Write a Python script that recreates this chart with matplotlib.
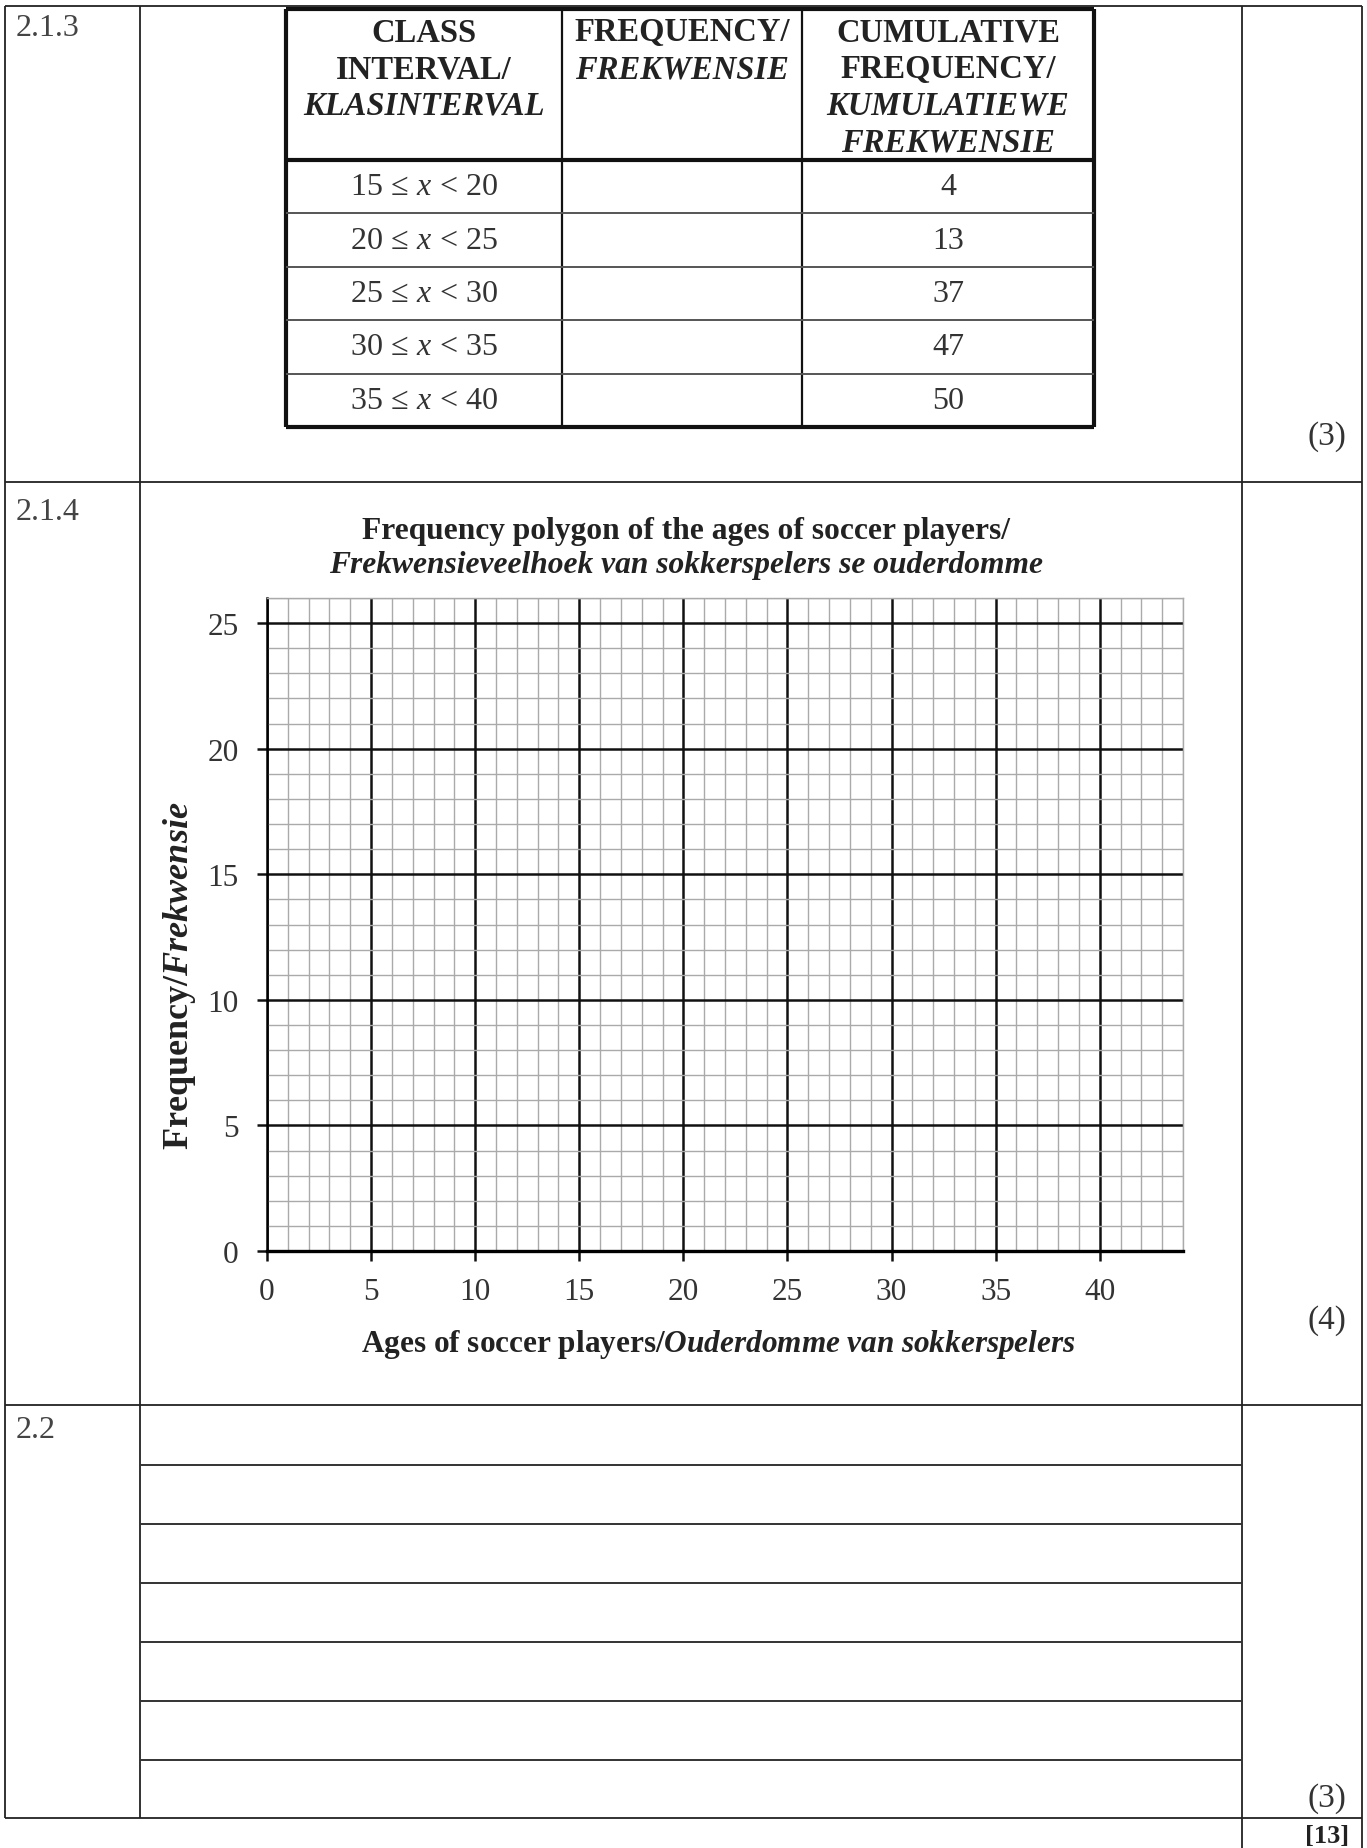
import matplotlib
matplotlib.use("Agg")
import matplotlib.pyplot as plt

plt.rcParams['font.family'] = ['Liberation Serif', 'DejaVu Serif']
plt.rcParams['mathtext.fontset'] = 'custom'
plt.rcParams['mathtext.rm'] = 'Liberation Serif'
plt.rcParams['mathtext.it'] = 'Liberation Serif:italic'
plt.rcParams['mathtext.bf'] = 'Liberation Serif:bold'
plt.rcParams['mathtext.bfit'] = 'Liberation Serif:bold:italic'

# table data (question 2.1.3)
class_lower = [15, 20, 25, 30, 35]
class_upper = [20, 25, 30, 35, 40]
cum_freq = [4, 13, 37, 47, 50]

# empty frequency polygon grid (question 2.1.4)
x_ticks = [0, 5, 10, 15, 20, 25, 30, 35, 40]
y_ticks = [0, 5, 10, 15, 20, 25]
x_max, y_max = 44, 26

marks = ['(3)', '(4)', '(3)']
total = '[13]'

W, H = 1367, 1849
fig = plt.figure(figsize=(W / 100, H / 100), dpi=100)

# page layer in pixel coordinates
bg = fig.add_axes([0, 0, 1, 1])
bg.set_xlim(0, W)
bg.set_ylim(H, 0)
bg.axis('off')

k = dict(color='#222222', lw=1.3)
# outer frame and column dividers
bg.hlines([7, 483, 1406, 1819], 5, 1362, **k)
bg.vlines([5, 140, 1242, 1362], 7, 1819, **k)
bg.vlines([1242, 1362], 1819, H, **k)
# answer lines for 2.2
bg.hlines([1466, 1525, 1584, 1643, 1702, 1761], 140, 1242, color='#333333', lw=1.4)

# section numbers
for lab, y in [('2.1.3', 28), ('2.1.4', 512), ('2.2', 1430)]:
    bg.text(16, y, lab, fontsize=23, va='center', ha='left', color='#444444')

# marks
for m, y in zip(marks, [437, 1321, 1799]):
    bg.text(1327, y, m, fontsize=24, ha='center', va='center', color='#333333')
bg.text(1327, 1836, total, fontsize=19, ha='center', va='center', weight='bold',
        color='#222222')

# --- table ---
tl, tr = 286, 1094
cols = [286, 562, 802, 1094]
t_top, h_bot, t_bot = 10, 161, 428
row_h = (t_bot - h_bot) / len(cum_freq)
bg.hlines([t_top, h_bot, t_bot], tl, tr, color='#111111', lw=3)
bg.vlines([tl, tr], t_top, t_bot, color='#111111', lw=3)
bg.vlines(cols[1:3], t_top, t_bot, color='#111111', lw=1.6)
bg.hlines([h_bot + row_h * i for i in range(1, len(cum_freq))], tl, tr,
          color='#555555', lw=1.4)

head = [
    [('CLASS', 'normal'), ('INTERVAL/', 'normal'), ('KLASINTERVAL', 'italic')],
    [('FREQUENCY/', 'normal'), ('FREKWENSIE', 'italic')],
    [('CUMULATIVE', 'normal'), ('FREQUENCY/', 'normal'),
     ('KUMULATIEWE', 'italic'), ('FREKWENSIE', 'italic')],
]
for c, lines in enumerate(head):
    cx = (cols[c] + cols[c + 1]) / 2
    for j, (txt, st) in enumerate(lines):
        bg.text(cx, 33 + 36.7 * j, txt, fontsize=23.5, weight='bold', style=st,
                ha='center', va='center', color='#222222')

for i, (lo, hi, cf) in enumerate(zip(class_lower, class_upper, cum_freq)):
    cy = h_bot + row_h * (i + 0.5)
    bg.text((cols[0] + cols[1]) / 2, cy, r'$%d\,\leq\,x\,<\,%d$' % (lo, hi),
            fontsize=23, ha='center', va='center', color='#333333')
    bg.text((cols[2] + cols[3]) / 2, cy, str(cf), fontsize=23,
            ha='center', va='center', color='#333333')

# --- chart ---
ax = fig.add_axes([267 / W, 1 - 1252 / H, (1183 - 267) / W, (1252 - 599) / H])
ax.set_xlim(0, x_max)
ax.set_ylim(0, y_max)
ax.set_xticks(x_ticks)
ax.set_yticks(y_ticks)
ax.set_xticks(range(0, x_max + 1), minor=True)
ax.set_yticks(range(0, y_max + 1), minor=True)
ax.grid(which='minor', color='#aaaaaa', lw=1.0)
ax.grid(which='major', color='#111111', lw=1.8)
ax.set_axisbelow(True)
ax.tick_params(which='major', direction='out', length=7.5, width=1.8,
               labelsize=22.5, color='#111111', labelcolor='#333333')
ax.tick_params(axis='x', pad=11)
ax.tick_params(axis='y', pad=13)
ax.tick_params(which='minor', length=0)
for s in ['top', 'right']:
    ax.spines[s].set_color('#aaaaaa')
    ax.spines[s].set_linewidth(1.0)
ax.spines['left'].set_linewidth(1.8)
ax.spines['bottom'].set_linewidth(2.4)

fig.text(686 / W, 1 - 532 / H, 'Frequency polygon of the ages of soccer players/',
         fontsize=22.7, weight='bold', ha='center', va='center', color='#222222')
fig.text(686 / W, 1 - 566 / H, 'Frekwensieveelhoek van sokkerspelers se ouderdomme',
         fontsize=22.7, weight='bold', style='italic', ha='center', va='center',
         color='#222222')
fig.text(718 / W, 1 - 1345 / H,
         r'Ages of soccer players/$\mathbfit{Ouderdomme\ van\ sokkerspelers}$',
         fontsize=22.5, weight='bold', ha='center', va='center', color='#222222')
fig.text(180 / W, 1 - 976 / H,
         r'Frequency/$\mathbfit{Frekwensie}$',
         fontsize=26, weight='bold', rotation=90, ha='center', va='center',
         color='#222222')

fig.savefig('out.png', dpi=100)
